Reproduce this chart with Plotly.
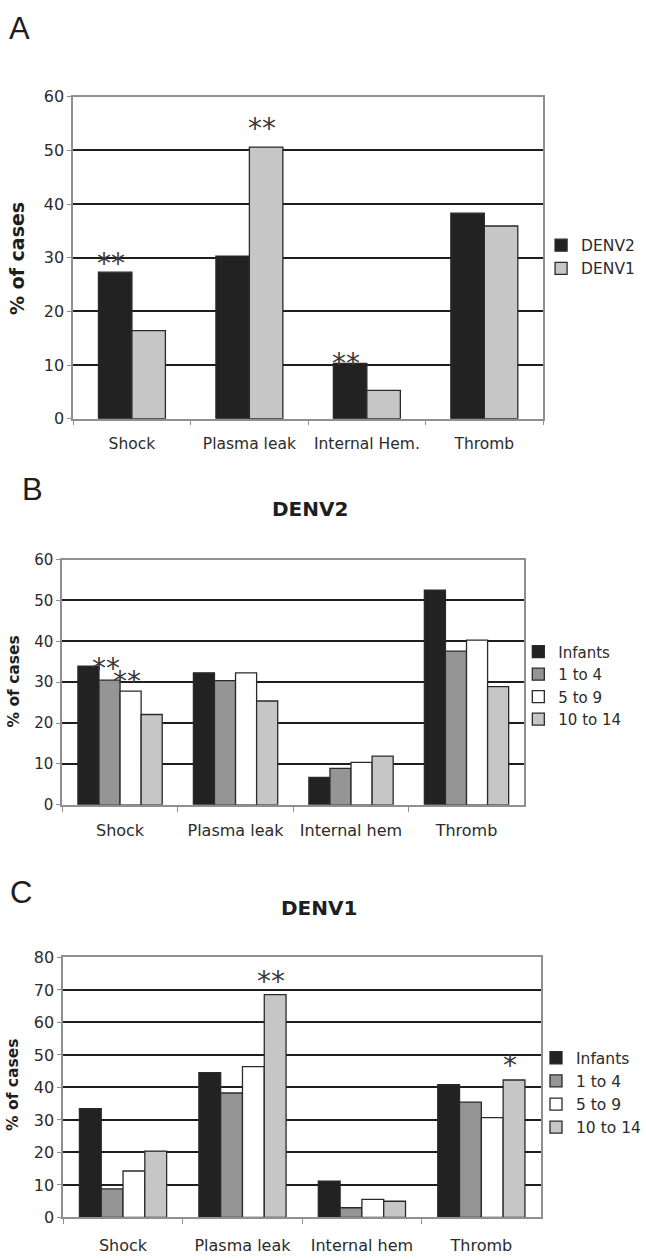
import plotly.graph_objects as go

W, H = 646, 1260

# ---------------- data ----------------
cats_a = ["Shock", "Plasma leak", "Internal Hem.", "Thromb"]
series_a = ["DENV2", "DENV1"]
a_denv2 = [27.3, 30.3, 10.3, 38.3]
a_denv1 = [16.4, 50.6, 5.3, 35.9]

cats_bc = ["Shock", "Plasma leak", "Internal hem", "Thromb"]
age_groups = ["Infants", "1 to 4", "5 to 9", "10 to 14"]

b_infants = [33.9, 32.3, 6.7, 52.5]
b_1to4 = [30.5, 30.4, 8.9, 37.6]
b_5to9 = [27.8, 32.3, 10.4, 40.3]
b_10to14 = [22.1, 25.4, 11.9, 28.9]

c_infants = [33.5, 44.6, 11.2, 40.9]
c_1to4 = [8.8, 38.3, 3.0, 35.5]
c_5to9 = [14.3, 46.4, 5.6, 30.7]
c_10to14 = [20.4, 68.6, 5.0, 42.3]

y_ticks_ab = [0, 10, 20, 30, 40, 50, 60]
y_ticks_c = [0, 10, 20, 30, 40, 50, 60, 70, 80]

# significance marks: (panel, category index, series index, label)
sig_marks = [
    ("A", 0, 0, "**"),
    ("A", 1, 1, "**"),
    ("A", 2, 0, "**"),
    ("B", 0, 1, "**"),
    ("B", 0, 2, "**"),
    ("C", 1, 3, "**"),
    ("C", 3, 3, "*"),
]
# pixel lift of each mark above its bar top (style)
sig_lift = [14.5, 24.5, 5.5, 17.5, 16, 19.5, 20.5]

# ---------------- style ----------------
FONT = "DejaVu Sans"
TXT = "#2b2b2b"
GRID = "#1e1e1e"
FRAME = "#8f8f8f"
OUTLINE = "#2a2a2a"
col_2 = ["#222222", "#c6c6c6"]
col_4 = ["#222222", "#959595", "#ffffff", "#c6c6c6"]


def px_x(p):
    return p / W


def px_y(p):
    return 1 - p / H


panels = {
    "A": dict(xa="x", ya="y", xd=[74, 549], yd=[89, 416], fill=0.57,
              cats=cats_a, names=series_a, vals=[a_denv2, a_denv1],
              colors=col_2, ticks=y_ticks_ab, legend="legend",
              tickfont=16, catfont=15.5, standoff=10),
    "B": dict(xa="x2", ya="y2", xd=[63, 530], yd=[559, 808], fill=0.73,
              cats=cats_bc, names=age_groups,
              vals=[b_infants, b_1to4, b_5to9, b_10to14],
              colors=col_4, ticks=y_ticks_ab, legend="legend2",
              tickfont=15, catfont=16, standoff=10),
    "C": dict(xa="x3", ya="y3", xd=[64, 547], yd=[963, 1227], fill=0.73,
              cats=cats_bc, names=age_groups,
              vals=[c_infants, c_1to4, c_5to9, c_10to14],
              colors=col_4, ticks=y_ticks_c, legend="legend3",
              tickfont=16, catfont=16, standoff=13),
}

fig = go.Figure()


def bar_geom(p, j):
    n = len(p["names"])
    w = p["fill"]
    return -w / 2 + j * w / n, w / n


for key, p in panels.items():
    for j, (name, vals) in enumerate(zip(p["names"], p["vals"])):
        off, wd = bar_geom(p, j)
        fig.add_trace(go.Bar(
            x=p["cats"], y=vals, name=name,
            xaxis=p["xa"], yaxis=p["ya"],
            offset=off, width=wd,
            marker=dict(color=p["colors"][j],
                        line=dict(color=OUTLINE, width=1.3)),
            legend=p["legend"], showlegend=True,
            hoverinfo="x+y",
        ))

layout = dict(
    width=W, height=H,
    margin=dict(l=0, r=0, t=0, b=0),
    paper_bgcolor="white", plot_bgcolor="white",
    font=dict(family=FONT, color=TXT),
    barmode="overlay",
)

for key, p in panels.items():
    xk = "xaxis" if p["xa"] == "x" else "xaxis" + p["xa"][1:]
    yk = "yaxis" if p["ya"] == "y" else "yaxis" + p["ya"][1:]
    layout[xk] = dict(
        domain=[px_x(p["xd"][0]), px_x(p["xd"][1])],
        anchor=p["ya"], type="category",
        categoryorder="array", categoryarray=p["cats"],
        range=[-0.5, len(p["cats"]) - 0.5],
        showline=True, linecolor=FRAME, linewidth=1.5, mirror=True,
        ticks="outside", tickson="boundaries", ticklen=5,
        tickcolor=FRAME, tickwidth=1.2,
        ticklabelstandoff=p["standoff"],
        showgrid=False, zeroline=False,
        tickfont=dict(size=p["catfont"], color=TXT),
        fixedrange=True,
    )
    layout[yk] = dict(
        domain=[px_y(p["yd"][1]), px_y(p["yd"][0])],
        anchor=p["xa"],
        range=[p["ticks"][0], p["ticks"][-1]],
        tickvals=p["ticks"],
        showgrid=True, gridcolor=GRID, gridwidth=1.5,
        showline=True, linecolor=FRAME, linewidth=1.8, mirror=True,
        ticks="outside", ticklen=4, tickcolor=FRAME,
        zeroline=False,
        tickfont=dict(size=p["tickfont"], color=TXT),
        fixedrange=True,
    )

layout["legend"] = dict(x=px_x(547), y=px_y(223), xanchor="left", yanchor="top",
                        font=dict(size=15.5, color=TXT), bgcolor="rgba(0,0,0,0)")
layout["legend2"] = dict(x=px_x(524), y=px_y(636), xanchor="left", yanchor="top",
                         font=dict(size=15, color=TXT), bgcolor="rgba(0,0,0,0)")
layout["legend3"] = dict(x=px_x(542), y=px_y(1048), xanchor="left", yanchor="top",
                         font=dict(size=15.5, color=TXT), bgcolor="rgba(0,0,0,0)")

fig.update_layout(**layout)

annotations = []
# panel letters
for letter, lx, ly in [("A", 20, 20), ("B", 33, 488), ("C", 21, 897)]:
    annotations.append(dict(text=letter, x=px_x(lx), y=px_y(ly), xref="paper", yref="paper",
                            showarrow=False, xanchor="center", yanchor="middle",
                            font=dict(family="Liberation Sans", size=31, color="#1e1e1e")))
# panel titles
for t, tx, ty in [("DENV2", 313, 508), ("DENV1", 322, 913)]:
    annotations.append(dict(text="<b>%s</b>" % t, x=px_x(tx), y=px_y(ty), xref="paper", yref="paper",
                            showarrow=False, xanchor="center", yanchor="middle",
                            font=dict(size=20, color="#1e1e1e")))
# y-axis titles
for tx, ty, fs in [(17, 253, 19), (14, 683, 15.5), (12.5, 1092, 15.5)]:
    annotations.append(dict(text="<b>% of cases</b>", x=px_x(tx), y=px_y(ty), xref="paper", yref="paper",
                            showarrow=False, xanchor="center", yanchor="middle", textangle=-90,
                            font=dict(size=fs, color="#1e1e1e")))
# significance marks
for (pk, ci, si, lab), lift in zip(sig_marks, sig_lift):
    p = panels[pk]
    off, wd = bar_geom(p, si)
    annotations.append(dict(
        text=lab, x=ci + off + wd / 2, y=p["vals"][si][ci],
        xref=p["xa"], yref=p["ya"], showarrow=False,
        xanchor="center", yanchor="middle", xshift=-4, yshift=lift - 6,
        font=dict(size=28, color="#3a3a3a")))

fig.update_layout(annotations=annotations)
fig.write_html("out.html",
               config={"displayModeBar": False},
               post_script="document.body.style.margin='0';document.body.style.overflow='hidden';")
